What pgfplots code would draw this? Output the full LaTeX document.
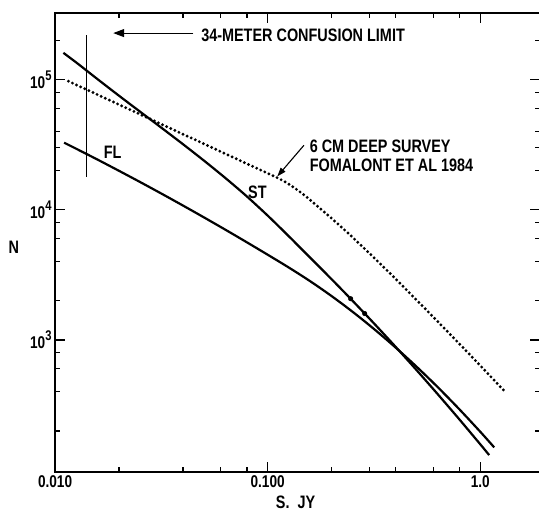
\documentclass[border=0pt]{standalone}
\usepackage{fontspec}
\setmainfont{Liberation Sans Bold}[FakeStretch=0.8]
\usepackage{pgfplots}
\pgfplotsset{compat=1.18}
\usetikzlibrary{arrows.meta}
\newcommand{\tsup}[1]{\raisebox{0.45em}{\fontsize{14}{14}\selectfont #1}}
\begin{document}
\begin{tikzpicture}
\begin{axis}[
  scale only axis, width=484pt, height=458pt,
  xmode=log, ymode=log,
  xmin=0.01, xmax=1.91, ymin=97, ymax=3.24e5,
  clip=false,
  axis line style={line width=1.8pt},
  every tick/.style={line width=1.2pt, black},
  major tick length=10pt, minor tick length=5pt,
  xtick={0.01,0.1,1}, xticklabels={0.010,0.100,1.0},
  minor xtick={0.02,0.04,0.06,0.08,0.2,0.3,0.4,0.6,0.8},
  ytick={1000,10000,100000},
  yticklabels={10\tsup{3},10\tsup{4},10\tsup{5}},
  minor ytick={200,400,600,800,2000,4000,6000,8000,20000,30000,40000,60000,80000,200000},
  tick label style={font=\fontsize{17}{17}\selectfont},
  /pgf/number format/assume math mode=true,
  xlabel={S.\ \ JY}, ylabel={N},
  xlabel style={font=\fontsize{18}{18}\selectfont, at={(axis description cs:0.496,-0.066)}, anchor=center},
  ylabel style={font=\fontsize{18}{18}\selectfont, at={(axis description cs:-0.085,0.489)}, rotate=-90, anchor=center},
]
% ST curve
\addplot[black, line width=2.2pt, smooth] coordinates {
(0.01094,1.602e5) (0.012589,1.349e5) (0.015849,1.005e5) (0.019953,7.52e4)
(0.025119,5.656e4) (0.031623,4.261e4) (0.039811,3.2e4) (0.050119,2.384e4)
(0.063096,1.757e4) (0.079433,1.274e4) (0.1,9.01e3) (0.12589,6.24e3)
(0.15849,4.277e3) (0.19953,2.935e3) (0.25119,1.993e3) (0.31623,1.340e3)
(0.39811,892) (0.50119,587.5) (0.63096,383) (0.79433,247.3) (1.0,158) (1.1015,130.5)};
% dots on ST
\addplot[only marks, mark=*, mark size=2.3pt, black] coordinates {(0.2456,2.073e3) (0.2860,1.595e3)};
% FL curve
\addplot[black, line width=2.2pt, smooth] coordinates {
(0.01102,3.273e4) (0.012589,2.936e4) (0.015849,2.424e4) (0.019953,1.992e4)
(0.025119,1.631e4) (0.031623,1.330e4) (0.039811,1.080e4) (0.050119,8.736e3)
(0.063096,7.038e3) (0.079433,5.646e3) (0.1,4.512e3) (0.12589,3.592e3)
(0.15849,2.824e3) (0.19953,2.176e3) (0.25119,1.642e3) (0.31623,1.214e3)
(0.39811,879.3) (0.50119,624) (0.63096,433.8) (0.79433,295.4) (1.0,197.2) (1.163,149.6)};
% 6 cm deep survey (dotted)
\addplot[black, line width=3.2pt, line cap=round, dash pattern=on 0pt off 4.5pt, smooth] coordinates {
(0.01155,9.70e4) (0.015849,7.645e4) (0.025119,5.398e4) (0.039811,3.814e4)
(0.063096,2.694e4) (0.089125,2.076e4) (0.10965,1.775e4) (0.12589,1.571e4)
(0.15136,1.264e4) (0.19953,8.60e3) (0.25119,6.125e3) (0.35481,3.567e3)
(0.50119,2.028e3) (0.70795,1.141e3) (1.0,635.3) (1.320,393.9)};
% confusion limit
\addplot[black, line width=1.1pt] coordinates {(0.014,2.19e5) (0.014,1.77e4)};
% annotations
\draw[line width=1.1pt, -{Triangle[length=11pt,width=8pt]}] (axis cs:0.0447,2.272e5) -- (axis cs:0.01877,2.272e5);
\node[anchor=west, inner sep=0pt, font=\fontsize{18}{18}\selectfont] at (axis cs:0.0486,2.19e5) {34-METER CONFUSION LIMIT};
\draw[line width=1.1pt, -{Triangle[length=9pt,width=6pt]}] (axis cs:0.1480,3.121e4) -- (axis cs:0.1109,1.80e4);
\node[anchor=west, inner sep=0pt, font=\fontsize{18}{18}\selectfont] at (axis cs:0.1574,3.05e4) {6 CM DEEP SURVEY};
\node[anchor=west, inner sep=0pt, font=\fontsize{18}{18}\selectfont] at (axis cs:0.1574,2.189e4) {FOMALONT ET AL 1984};
\node[inner sep=0pt, font=\fontsize{18}{18}\selectfont] at (axis cs:0.01866,2.756e4) {FL};
\node[inner sep=0pt, font=\fontsize{18}{18}\selectfont] at (axis cs:0.0895,1.357e4) {ST};
\end{axis}
\pgfresetboundingbox
\useasboundingbox ([shift={(-55pt,-39.3pt)}]current axis.south west) rectangle ([shift={(-1pt,13pt)}]current axis.north east);
\end{tikzpicture}
\end{document}
